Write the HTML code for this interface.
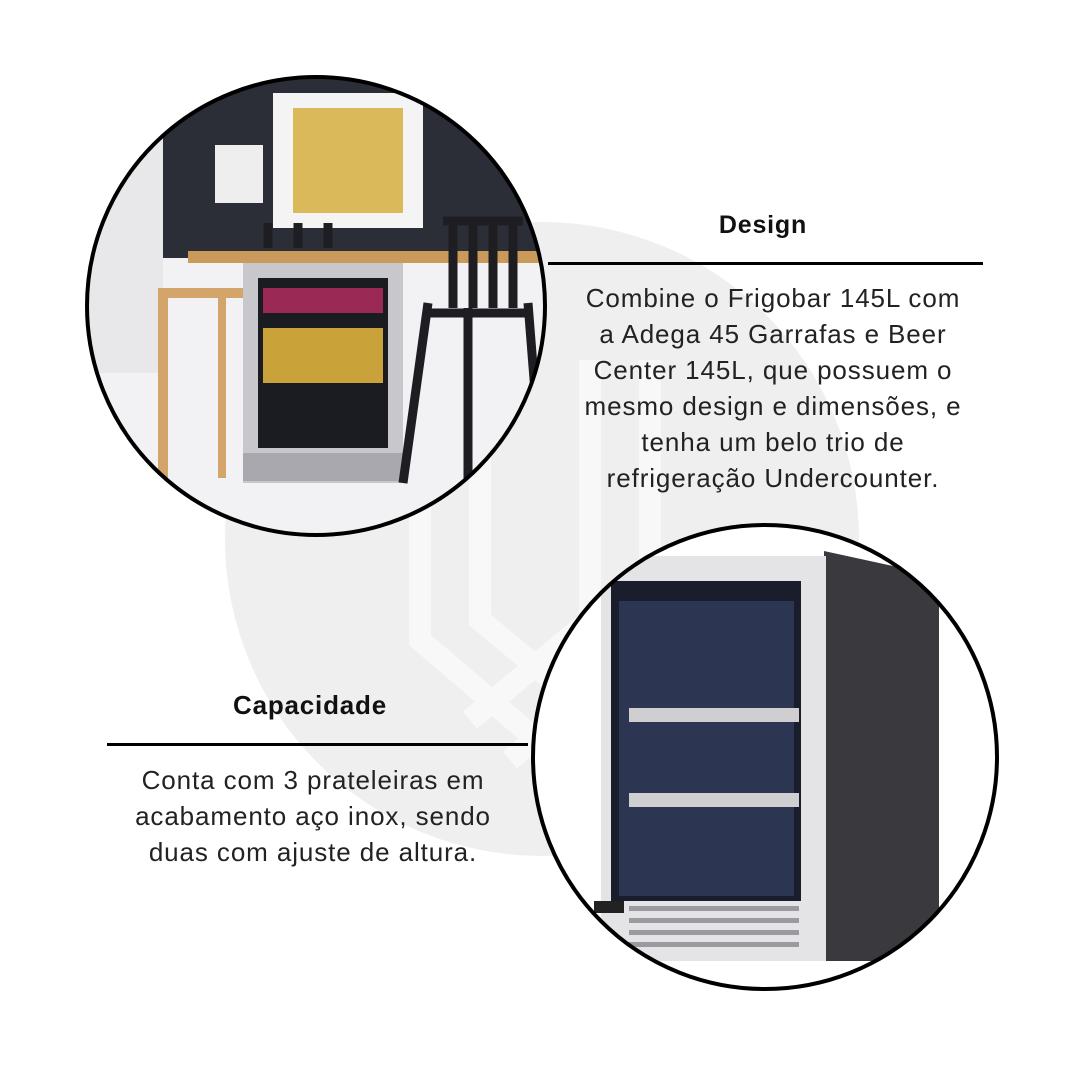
<!DOCTYPE html>
<html><head><meta charset="utf-8"><style>
body{margin:0;width:1080px;height:1080px;background:#fff;position:relative;overflow:hidden;font-family:"Liberation Sans",sans-serif;}
.a{position:absolute}
.t{position:absolute;text-align:center;font-size:26px;letter-spacing:0.9px;line-height:36px;color:#222;white-space:nowrap}
.h{position:absolute;text-align:center;font-weight:bold;font-size:25px;color:#111;letter-spacing:0.8px}
</style></head><body>
<div class="a" style="left:225px;top:222px;width:634px;height:634px;border-radius:50%;background:#efefef"></div>
<svg class="a" style="left:0;top:0" width="1080" height="1080">
 <g fill="none" stroke="#fafafa" stroke-width="22" opacity="0.9">
  <path d="M420 360 V640 L560 760"/><path d="M480 360 V620 L600 720"/><path d="M590 360 V620 L470 720"/><path d="M650 360 V640 L510 760"/>
 </g>
</svg>
<svg class="a" style="left:83px;top:73px" width="466" height="466">
 <defs><clipPath id="c1"><circle cx="233" cy="233" r="229"/></clipPath></defs>
 <g clip-path="url(#c1)">
  <rect width="466" height="466" fill="#f2f2f4"/>
  <rect x="0" y="0" width="466" height="185" fill="#2b2e37"/>
  <rect x="0" y="0" width="80" height="300" fill="#e8e8ea"/>
  <rect x="190" y="20" width="150" height="135" fill="#f4f4f4"/>
  <rect x="210" y="35" width="110" height="105" fill="#d9b95a"/>
  <rect x="132" y="72" width="48" height="58" fill="#eee"/>
  <rect x="105" y="178" width="360" height="12" fill="#c99a5a"/>
  <rect x="75" y="215" width="90" height="10" fill="#d4a56a"/>
  <rect x="75" y="215" width="10" height="190" fill="#d4a56a"/>
  <rect x="135" y="215" width="8" height="190" fill="#d4a56a"/>
  <rect x="160" y="190" width="160" height="220" fill="#c8c8cc"/>
  <rect x="175" y="205" width="130" height="170" fill="#1b1c22"/>
  <rect x="180" y="215" width="120" height="25" fill="#9a2a55"/>
  <rect x="180" y="255" width="120" height="55" fill="#c9a23a"/>
  <rect x="160" y="380" width="160" height="28" fill="#a8a8ae"/>
  <g stroke="#1e1e22" stroke-width="9" fill="none">
   <path d="M345 230 L320 410"/><path d="M445 230 L460 420"/><path d="M385 235 L385 420"/><path d="M340 240 H450"/>
   <path d="M370 150 V235 M390 150 V235 M410 150 V235 M430 150 V235"/><path d="M360 148 H440"/>
   <path d="M185 150 V175 M215 150 V175 M245 150 V175"/>
  </g>
 </g>
 <circle cx="233" cy="233" r="229" fill="none" stroke="#000" stroke-width="4"/>
</svg>
<svg class="a" style="left:529px;top:521px" width="472" height="472">
 <defs><clipPath id="c2"><circle cx="236" cy="236" r="232"/></clipPath></defs>
 <g clip-path="url(#c2)">
  <rect width="472" height="472" fill="#fff"/>
  <polygon points="295,30 410,55 410,440 295,440" fill="#3a3a3e"/>
  <rect x="72" y="35" width="225" height="405" fill="#e4e4e6"/>
  <rect x="82" y="60" width="190" height="320" fill="#1a1d2c"/>
  <rect x="90" y="80" width="175" height="295" fill="#2c3552"/>
  <rect x="100" y="187" width="170" height="14" fill="#cfcfd2"/>
  <rect x="100" y="272" width="170" height="14" fill="#cfcfd2"/>
  <g fill="#9a9aa0"><rect x="100" y="385" width="170" height="5"/><rect x="100" y="397" width="170" height="5"/><rect x="100" y="409" width="170" height="5"/><rect x="100" y="421" width="170" height="5"/></g>
  <rect x="65" y="380" width="30" height="12" fill="#222"/>
 </g>
 <circle cx="236" cy="236" r="232" fill="none" stroke="#000" stroke-width="4"/>
</svg>
<div class="h" style="left:663px;top:211px;width:200px">Design</div>
<div class="a" style="left:548px;top:262px;width:435px;height:3px;background:#000"></div>
<div class="t" style="left:523px;top:280px;width:500px">Combine o Frigobar 145L com<br>a Adega 45 Garrafas e Beer<br>Center 145L, que possuem o<br>mesmo design e dimensões, e<br>tenha um belo trio de<br>refrigeração Undercounter.</div>
<div class="h" style="left:160px;top:690px;width:300px;font-size:26px">Capacidade</div>
<div class="a" style="left:107px;top:743px;width:421px;height:3px;background:#000"></div>
<div class="t" style="left:63px;top:762px;width:500px">Conta com 3 prateleiras em<br>acabamento aço inox, sendo<br>duas com ajuste de altura.</div>
</body></html>
